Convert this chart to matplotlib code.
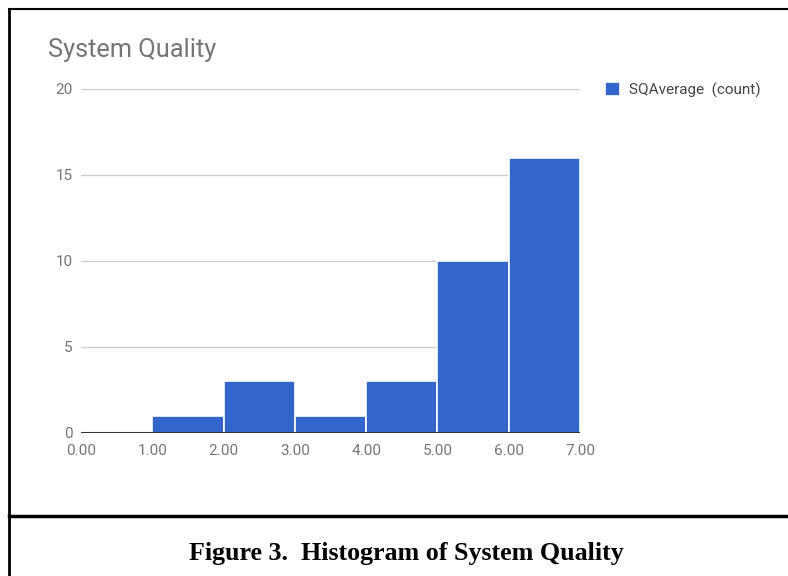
#!/usr/bin/env python3
import matplotlib.pyplot as plt
from matplotlib.lines import Line2D

# Histogram data
bin_edges = [0, 1, 2, 3, 4, 5, 6, 7]
counts = [0, 1, 3, 1, 3, 10, 16]
y_ticks = [0, 5, 10, 15, 20]
title = 'System Quality'
legend_label = 'SQAverage  (count)'
caption = 'Figure 3.  Histogram of System Quality'

BLUE = '#3366cc'
GRAY_TEXT = '#757575'


def main():
    fig = plt.figure(figsize=(7.88, 5.76), dpi=100)
    ax = fig.add_axes([81 / 788, 1 - 433 / 576, 499 / 788, 344 / 576])

    ax.bar(bin_edges[:-1], counts, width=1, align='edge', color=BLUE,
           edgecolor='white', linewidth=1.2, zorder=3, label=legend_label)

    ax.set_xlim(bin_edges[0], bin_edges[-1])
    ax.set_ylim(0, 20)
    ax.set_xticks(bin_edges)
    ax.set_xticklabels([f'{v:.2f}' for v in bin_edges])
    ax.set_yticks(y_ticks)
    ax.tick_params(length=0, labelsize=11, labelcolor=GRAY_TEXT)
    ax.tick_params(axis='y', pad=6)
    ax.tick_params(axis='x', pad=8)
    for lbl in ax.get_xticklabels() + ax.get_yticklabels():
        lbl.set_family('Roboto')

    ax.grid(True, axis='y', color='#cccccc', linewidth=1, zorder=0)
    for s in ax.spines.values():
        s.set_visible(False)
    ax.axhline(0, color='#333333', linewidth=1.5, zorder=4)

    fig.text(48 / 788, 1 - 57 / 576, title, fontsize=18.3, color=GRAY_TEXT,
             family='Roboto', va='baseline', ha='left')

    leg = ax.legend(loc='center left', bbox_to_anchor=(594 / 788, 1 - 90 / 576),
                    bbox_transform=fig.transFigure, frameon=False,
                    handlelength=1.0, handleheight=1.0, handletextpad=0.6,
                    borderpad=0.2, prop={'family': 'Roboto', 'size': 11})
    for t in leg.get_texts():
        t.set_color('#444444')

    # Frame lines around the figure
    fig.add_artist(Line2D([9 / 788, 9 / 788], [0, 1 - 9 / 576],
                          transform=fig.transFigure, color='black', linewidth=2))
    fig.add_artist(Line2D([9 / 788, 1], [1 - 9 / 576, 1 - 9 / 576],
                          transform=fig.transFigure, color='black', linewidth=1.5))
    fig.add_artist(Line2D([9 / 788, 1], [1 - 516 / 576, 1 - 516 / 576],
                          transform=fig.transFigure, color='black', linewidth=2.5))

    fig.text(406 / 788, 1 - 560 / 576, caption, fontsize=18.7, fontweight='bold',
             family='Liberation Serif', ha='center', va='baseline')

    fig.savefig('out.png', dpi=100)


if __name__ == '__main__':
    main()
